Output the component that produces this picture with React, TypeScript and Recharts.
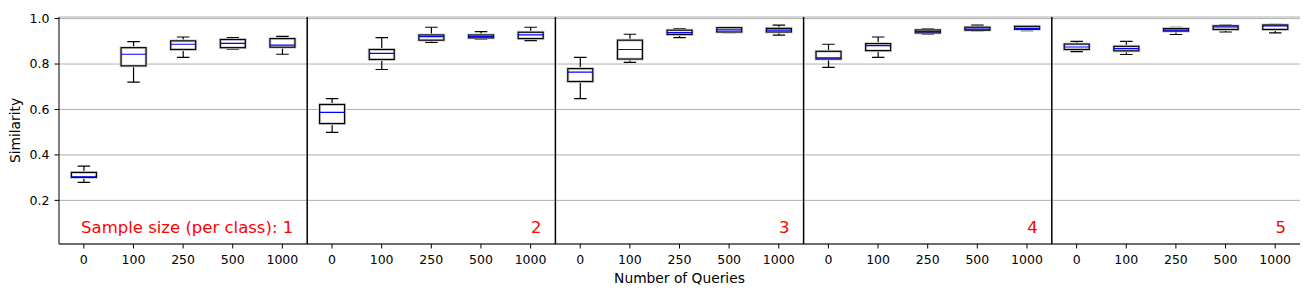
import React from "react";
import {
  ComposedChart,
  Bar,
  XAxis,
  YAxis,
  CartesianGrid,
  ReferenceArea,
} from "recharts";

const queries = ["0", "100", "250", "500", "1000"];
const sampleLabels = ["Sample size (per class): 1", "2", "3", "4", "5"];

// one row per sample size, one value per number of queries
const whiskerLow = [
  [0.279, 0.72, 0.829, 0.866, 0.843],
  [0.499, 0.776, 0.895, 0.91, 0.903],
  [0.648, 0.807, 0.916, 0.938, 0.927],
  [0.785, 0.829, 0.932, 0.946, 0.947],
  [0.855, 0.842, 0.93, 0.941, 0.937],
];
const q1 = [
  [0.301, 0.792, 0.864, 0.872, 0.874],
  [0.538, 0.82, 0.905, 0.915, 0.912],
  [0.723, 0.822, 0.93, 0.941, 0.941],
  [0.822, 0.859, 0.937, 0.949, 0.953],
  [0.864, 0.858, 0.945, 0.952, 0.952],
];
const median = [
  [0.304, 0.843, 0.887, 0.891, 0.883],
  [0.587, 0.847, 0.921, 0.921, 0.928],
  [0.764, 0.864, 0.938, 0.95, 0.949],
  [0.827, 0.881, 0.943, 0.954, 0.957],
  [0.875, 0.868, 0.949, 0.963, 0.968],
];
const q3 = [
  [0.323, 0.872, 0.902, 0.908, 0.912],
  [0.622, 0.864, 0.928, 0.928, 0.94],
  [0.78, 0.905, 0.949, 0.96, 0.957],
  [0.856, 0.89, 0.95, 0.962, 0.966],
  [0.888, 0.878, 0.956, 0.968, 0.972],
];
const whiskerHigh = [
  [0.351, 0.899, 0.919, 0.916, 0.922],
  [0.648, 0.916, 0.962, 0.943, 0.962],
  [0.829, 0.931, 0.956, 0.962, 0.971],
  [0.887, 0.919, 0.956, 0.971, 0.968],
  [0.9, 0.9, 0.962, 0.972, 0.975],
];

const yTicks = [0.2, 0.4, 0.6, 0.8, 1.0];

const FONT = "DejaVu Sans, sans-serif";

const rows = sampleLabels.flatMap((_, g) =>
  queries.map((q, i) => ({
    id: `${g}-${q}`,
    low: whiskerLow[g][i],
    q1: q1[g][i],
    med: median[g][i],
    q3: q3[g][i],
    high: whiskerHigh[g][i],
    range: [whiskerLow[g][i], whiskerHigh[g][i]],
  }))
);

function BoxShape(props: any) {
  const { x, y, width, height, payload } = props;
  const top = Math.min(y, y + height);
  const h = Math.abs(height);
  const span = payload.high - payload.low;
  const py = (v: number) => top + ((payload.high - v) / span) * h;
  const cx = x + width / 2;
  const cap = width / 4;
  const yHigh = py(payload.high);
  const yLow = py(payload.low);
  const boxTop = py(payload.q3);
  const boxBottom = py(payload.q1);
  const yMed = py(payload.med);
  return (
    <g>
      <line x1={cx} x2={cx} y1={yHigh} y2={boxTop} stroke="#000" strokeWidth={1.2} />
      <line x1={cx} x2={cx} y1={boxBottom} y2={yLow} stroke="#000" strokeWidth={1.2} />
      <line x1={cx - cap} x2={cx + cap} y1={yHigh} y2={yHigh} stroke="#000" strokeWidth={1.2} />
      <line x1={cx - cap} x2={cx + cap} y1={yLow} y2={yLow} stroke="#000" strokeWidth={1.2} />
      <rect
        x={x}
        y={boxTop}
        width={width}
        height={boxBottom - boxTop}
        fill="#fff"
        stroke="#d4d4d4"
        strokeWidth={3}
      />
      <rect
        x={x}
        y={boxTop}
        width={width}
        height={boxBottom - boxTop}
        fill="none"
        stroke="#000"
        strokeWidth={1.2}
      />
      <line x1={x} x2={x + width} y1={yMed} y2={yMed} stroke="#0000ff" strokeWidth={1.2} />
    </g>
  );
}

// group panel: separator line on its right edge (except the last one)
function groupShape(last: boolean) {
  return (p: any) =>
    last ? <g /> : (
      <line
        x1={p.x + p.width}
        x2={p.x + p.width}
        y1={p.y}
        y2={p.y + p.height}
        stroke="#000"
        strokeWidth={1.5}
      />
    );
}

export default function App() {
  return (
    <div style={{ position: "absolute", left: 0, top: 0, background: "#fff" }}>
      <ComposedChart
        width={1311}
        height={297}
        data={rows}
        margin={{ top: 17, right: 11, bottom: 0, left: 0 }}
        barCategoryGap="25%"
      >
        <CartesianGrid vertical={false} stroke="#b0b0b0" strokeWidth={1} />
        <XAxis
          dataKey="id"
          interval={0}
          height={53}
          tickFormatter={(v: string) => v.split("-")[1]}
          tick={{ fill: "#000", fontSize: 12.5, fontFamily: FONT }}
          tickSize={4.5}
          tickMargin={7}
          tickLine={{ stroke: "#000" }}
          axisLine={{ stroke: "#000" }}
          label={{
            content: ({ viewBox }: any) => (
              <text
                x={viewBox.x + viewBox.width / 2}
                y={viewBox.y + 39}
                textAnchor="middle"
                fill="#000"
                fontSize={13.8}
                fontFamily={FONT}
              >
                Number of Queries
              </text>
            ),
          }}
        />
        <XAxis
          xAxisId="top"
          dataKey="id"
          orientation="top"
          height={0}
          tick={false}
          tickLine={false}
          axisLine={{ stroke: "#000" }}
        />
        <YAxis
          width={59}
          domain={[0.008, 1.007]}
          allowDataOverflow
          ticks={yTicks}
          tickFormatter={(v: number) => v.toFixed(1)}
          tick={{ fill: "#000", fontSize: 12.5, fontFamily: FONT }}
          tickSize={4.5}
          tickMargin={5}
          tickLine={{ stroke: "#000" }}
          axisLine={{ stroke: "#000" }}
          label={{
            content: ({ viewBox }: any) => {
              const lx = viewBox.x + 20;
              const ly = viewBox.y + viewBox.height / 2;
              return (
                <text
                  x={lx}
                  y={ly}
                  transform={`rotate(-90, ${lx}, ${ly})`}
                  textAnchor="middle"
                  fill="#000"
                  fontSize={13.8}
                  fontFamily={FONT}
                >
                  Similarity
                </text>
              );
            },
          }}
        />
        <YAxis
          yAxisId="right"
          orientation="right"
          width={0}
          domain={[0.008, 1.007]}
          tick={false}
          tickLine={false}
          axisLine={{ stroke: "#000" }}
        />
        {sampleLabels.map((label, g) => (
          <ReferenceArea
            key={`area-${g}`}
            x1={`${g}-${queries[0]}`}
            x2={`${g}-${queries[queries.length - 1]}`}
            shape={groupShape(g === sampleLabels.length - 1)}
            ifOverflow="visible"
            label={{
              content: ({ viewBox }: any) => (
                <text
                  x={viewBox.x + viewBox.width - 14}
                  y={viewBox.y + viewBox.height - 11}
                  textAnchor="end"
                  fill="#ff0000"
                  fontSize={16.5}
                  fontFamily={FONT}
                >
                  {label}
                </text>
              ),
            }}
          />
        ))}
        <Bar dataKey="range" shape={BoxShape} isAnimationActive={false} />
      </ComposedChart>
    </div>
  );
}
